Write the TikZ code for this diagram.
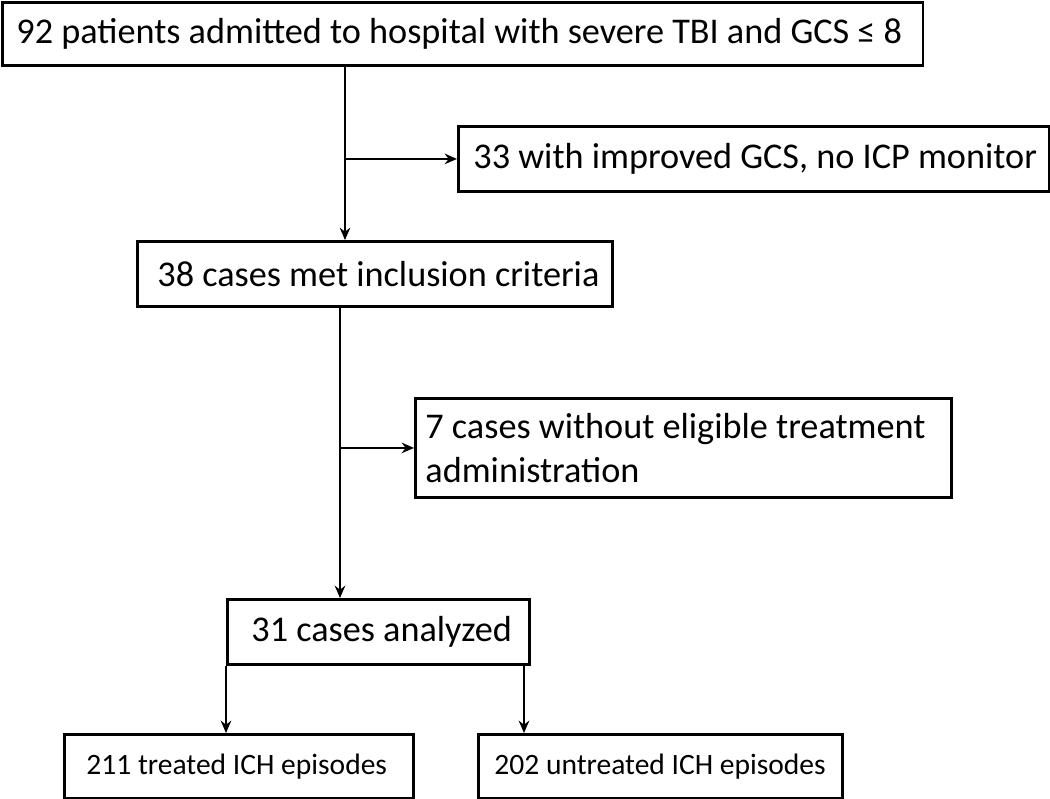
\documentclass[tikz,border=0pt]{standalone}
\usepackage{fontspec}
\setmainfont{Carlito}
\usepackage{tikz}
\usetikzlibrary{arrows.meta, calc, positioning}

\tikzset{
  flowbox/.style n args={3}{draw, line width=0.8pt, anchor=north west, align=flush left,
    inner ysep=0pt, inner xsep=0pt, text width=#1, minimum height=#2,
    execute at begin node={\leftskip=#3}},
  flowarr/.style={line width=0.7pt, -{Stealth[length=3.5pt, width=3pt]}},
  bigtxt/.style={font=\fontsize{10.3}{12.6}\selectfont},
  smalltxt/.style={font=\fontsize{8.4}{10}\selectfont}
}

\begin{document}
\begin{tikzpicture}[x=0.01cm, y=-0.01cm]
			\useasboundingbox (0,0) rectangle (1050,799);
			
			\node[flowbox={9.20cm}{0.63cm}{0.14cm}, bigtxt] (top) at (1,1) {92 patients admitted to hospital with severe TBI and GCS ≤ 8};
			\node[flowbox={5.91cm}{0.65cm}{0.15cm}, bigtxt] (excl1) at (457,125) {33 with improved GCS, no ICP monitor};
			\node[flowbox={4.75cm}{0.65cm}{0.20cm}, bigtxt] (incl) at (136,240) {38 cases met inclusion criteria};
			\node[flowbox={5.36cm}{0.99cm}{0.10cm}, bigtxt] (excl2) at (414,397) {7 cases without eligible treatment\\administration};
			\node[flowbox={3.02cm}{0.65cm}{0.24cm}, bigtxt] (ana) at (226,598) {31 cases analyzed};
			\node[flowbox={3.49cm}{0.64cm}{0.22cm}, smalltxt] (treat) at (63,733) {211 treated ICH episodes};
			\node[flowbox={3.64cm}{0.64cm}{0.16cm}, smalltxt] (untreat) at (477,733) {202 untreated ICH episodes};
			
			\coordinate (s1) at (345,0);
			\coordinate (s2) at (340,0);
			\coordinate (s3) at (524,0);
			
			\draw[flowarr] (top.south -| s1) -- (incl.north -| s1);
			\draw[flowarr] (s1 |- excl1.west) -- (excl1.west);
			\draw[flowarr] (incl.south -| s2) -- (ana.north -| s2);
			\draw[flowarr] (s2 |- excl2.west) -- (excl2.west);
			\draw[flowarr] (ana.south west) -- (ana.south west |- treat.north);
			\draw[flowarr] (ana.south -| s3) -- (untreat.north -| s3);
			
		\end{tikzpicture}
\end{document}
